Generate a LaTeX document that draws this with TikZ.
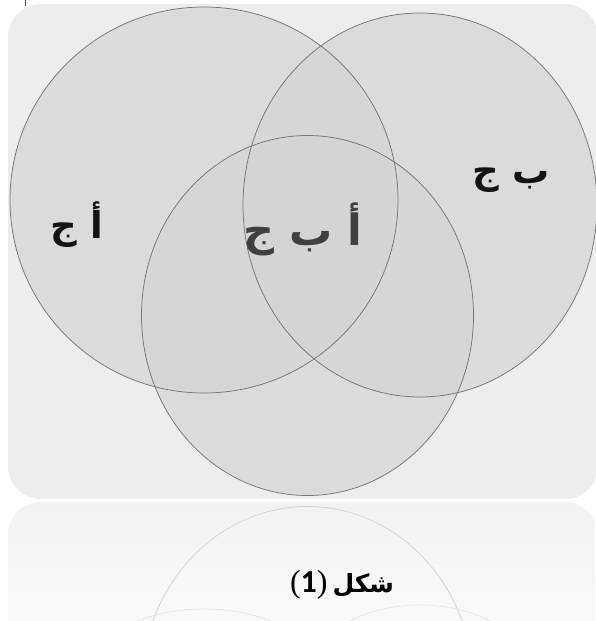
\documentclass[tikz,border=0pt]{standalone}
\usepackage{fontspec}
\TeXXeTstate=1
\newfontfamily\arabicfont[Script=Arabic]{DejaVu Sans}
\newfontfamily\numfont{Carlito}
\newfontfamily\parenfont{Liberation Serif}
\definecolor{bgc}{RGB}{237,237,237}
\definecolor{vennfill}{RGB}{212,212,212}
\definecolor{ringc}{RGB}{118,118,118}
\definecolor{reflc}{RGB}{210,210,210}
\definecolor{reflc2}{RGB}{228,228,228}
\begin{document}
\begin{tikzpicture}[x=1pt,y=-1pt,
  venn/.style={fill=vennfill, fill opacity=0.7},
  ring/.style={draw=ringc, line width=0.75pt},
  lbl/.style={anchor=base, inner sep=0pt, text=black!92, font=\fontsize{37}{44}\selectfont\arabicfont\bfseries},
  biglbl/.style={lbl, text=black!75, font=\fontsize{43}{50}\selectfont\arabicfont\bfseries}
]
\useasboundingbox (0,0) rectangle (595,621);
% main panel
\fill[bgc, rounded corners=33pt] (8,4) rectangle (598,499);
% reflection
\begin{scope}
  \clip (0,502) rectangle (595,621);
  \shade[top color={rgb,255:red,242;green,242;blue,242}, bottom color={rgb,255:red,251;green,251;blue,251}, rounded corners=33pt] (8,502) rectangle (598,660);
  \draw[reflc, line width=0.75pt] (307.5,686.5) ellipse [x radius=166, y radius=180];
  \draw[reflc2, line width=0.75pt] (204,802) ellipse [x radius=194, y radius=193];
  \draw[reflc2, line width=0.75pt] (420,797) ellipse [x radius=177, y radius=192];
\end{scope}
% circles
\path[venn] (204,200) ellipse [x radius=194, y radius=193];
\path[venn] (420,205) ellipse [x radius=177, y radius=192];
\path[venn] (307.5,315.5) ellipse [x radius=166, y radius=180];
\path[ring] (204,200) ellipse [x radius=194, y radius=193];
\path[ring] (420,205) ellipse [x radius=177, y radius=192];
\path[ring] (307.5,315.5) ellipse [x radius=166, y radius=180];
% stray tick at the top
\draw[black!70, line width=1pt] (25,0) -- (25,6);
% labels
\node[lbl] (ac) at (77,238) {\beginR أ ج\endR};
\node[lbl] (bc) at (511,183) {\beginR ب ج\endR};
\node[biglbl] (abc) at (303,245) {\beginR أ ب ج\endR};
\node[anchor=base, inner sep=0pt] (cap) at (342,592) {{\fontsize{32}{36}\selectfont\parenfont(}{\fontsize{32}{36}\selectfont\numfont\bfseries 1}{\fontsize{32}{36}\selectfont\parenfont)}\hspace{5pt}{\fontsize{25}{30}\selectfont\arabicfont\bfseries\beginR شكل\endR}};
\end{tikzpicture}
\end{document}
